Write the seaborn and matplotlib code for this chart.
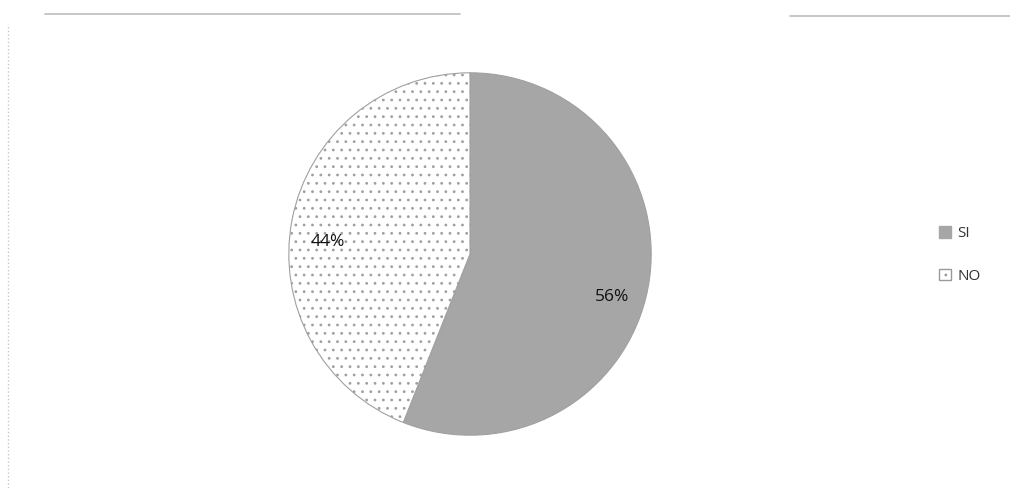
import matplotlib
matplotlib.use("Agg")
import matplotlib.pyplot as plt
import seaborn as sns
from matplotlib.lines import Line2D
from matplotlib.patches import Patch

categories = ["SI", "NO"]
values = [56, 44]

sns.set_theme(style="white")
plt.rcParams['font.family'] = ['Open Sans', 'DejaVu Sans']
plt.rcParams['hatch.color'] = '#9a9a9a'
plt.rcParams['hatch.linewidth'] = 0.8

fig = plt.figure(figsize=(10.10, 4.88), dpi=100)
fig.patch.set_facecolor('white')
ax = fig.add_axes([287/1010, 51/488, 366/1010, 366/488])

colors = ['#a6a6a6', '#ffffff']
wedges, texts, autotexts = ax.pie(
    values, colors=colors, startangle=90, counterclock=False,
    autopct='%1.0f%%', pctdistance=0.8,
    wedgeprops=dict(edgecolor='#a0a0a0', linewidth=0.8),
    textprops=dict(fontsize=12.5, color='#111111'))
wedges[1].set_hatch('..')

# labels sit slightly lower than the wedge midline in the original
for t in autotexts:
    x, y = t.get_position()
    t.set_position((x, y - 0.085))

ax.set_xlim(-1.01, 1.01)
ax.set_ylim(-1.01, 1.01)
ax.set_aspect('auto')
ax.axis('off')

handles = [Patch(facecolor='#a6a6a6', edgecolor='#a6a6a6'),
           Patch(facecolor='white', edgecolor='#9a9a9a', hatch='..')]
fig.legend(handles, categories, loc='center left',
           bbox_to_anchor=(925/1010, 1 - 255/488), frameon=False,
           fontsize=11, handlelength=0.8, handleheight=0.8,
           handletextpad=0.4, labelspacing=1.8, labelcolor='#333333')

# faint frame remnants
fig.add_artist(Line2D([45/1010, 460/1010], [1 - 14/488, 1 - 14/488],
                      color='#bdbdbd', lw=1.2, transform=fig.transFigure))
fig.add_artist(Line2D([790/1010, 1.0], [1 - 16/488, 1 - 16/488],
                      color='#bdbdbd', lw=1.2, transform=fig.transFigure))
fig.add_artist(Line2D([8/1010, 8/1010], [0.0, 1 - 24/488],
                      color='#c8c8c8', lw=1.0, ls=':', transform=fig.transFigure))

fig.savefig('out.png', dpi=100, facecolor='white')
